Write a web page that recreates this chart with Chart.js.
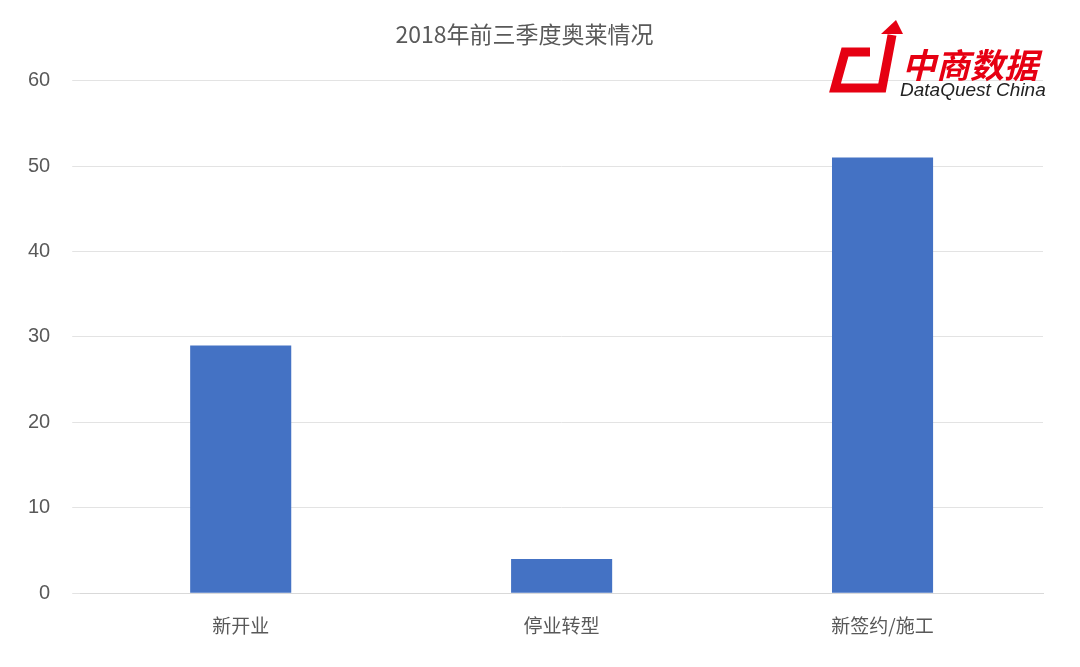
<!DOCTYPE html>
<html>
<head>
<meta charset="utf-8">
<script src="https://cdn.jsdelivr.net/npm/chart.js@4/dist/chart.umd.min.js"></script>
<style>
  html, body { margin: 0; padding: 0; background: #fff; }
  #wrap { position: relative; width: 1080px; height: 667px; }
</style>
</head>
<body>
<div id="wrap"><canvas id="graph" width="1080" height="667"></canvas></div>
<script>
var categories = ["新开业", "停业转型", "新签约/施工"];
var values = [29, 4, 51];
var titleText = "2018年前三季度奥莱情况";

// logo drawn as text in the top right corner
var logoPlugin = {
  id: "logo",
  afterDraw: function (chart) {
    var ctx = chart.ctx;
    ctx.save();
    ctx.fillStyle = "#e60012";
    ctx.font = "bold italic 34px 'Noto Sans CJK SC'";
    ctx.textBaseline = "alphabetic";
    ctx.fillText("中商数据", 902, 78);
    ctx.font = "italic 19px 'Liberation Sans'";
    ctx.fillStyle = "#222";
    ctx.fillText("DataQuest China", 900, 96);
    ctx.strokeStyle = "#e60012";
    ctx.lineWidth = 9;
    ctx.beginPath();
    ctx.moveTo(870, 52);
    ctx.lineTo(845, 52);
    ctx.lineTo(835, 88);
    ctx.lineTo(882, 88);
    ctx.lineTo(892, 35);
    ctx.stroke();
    ctx.fillStyle = "#e60012";
    ctx.beginPath();
    ctx.moveTo(881, 34);
    ctx.lineTo(903, 34);
    ctx.lineTo(896, 20);
    ctx.closePath();
    ctx.fill();
    ctx.restore();
  }
};

new Chart(document.getElementById("graph").getContext("2d"), {
  type: "bar",
  data: {
    labels: categories,
    datasets: [{
      data: values,
      backgroundColor: "#4472c4",
      categoryPercentage: 1,
      barPercentage: 0.315
    }]
  },
  plugins: [logoPlugin],
  options: {
    responsive: false,
    animation: false,
    layout: { padding: { left: 6, right: 37, top: 10, bottom: 17 } },
    plugins: {
      legend: { display: false },
      tooltip: { enabled: false },
      title: {
        display: true,
        text: titleText,
        color: "#595959",
        font: { size: 23, family: "'Noto Sans CJK SC'", weight: "normal" },
        padding: { top: 10, bottom: 33 }
      }
    },
    scales: {
      x: {
        grid: { display: false },
        border: { color: "#d9d9d9" },
        ticks: { color: "#595959", font: { size: 19, family: "'Noto Sans CJK SC'" }, padding: 13 }
      },
      y: {
        min: 0,
        max: 60,
        ticks: { stepSize: 10, color: "#595959", font: { size: 20, family: "'Liberation Sans'" }, padding: 22 },
        grid: { color: "#e3e3e3" },
        border: { display: false }
      }
    }
  }
});
</script>
</body>
</html>
